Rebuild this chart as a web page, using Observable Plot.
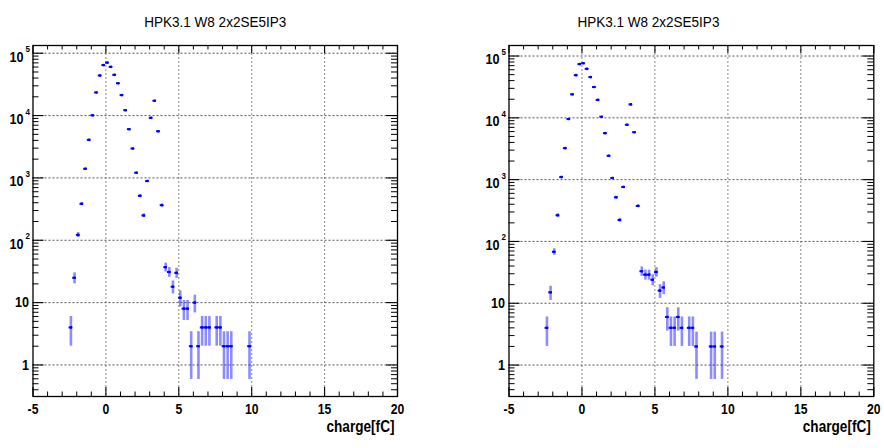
<!DOCTYPE html>
<html>
<head>
<meta charset="utf-8">
<script src="https://cdn.jsdelivr.net/npm/d3@7"></script>
<script src="https://cdn.jsdelivr.net/npm/@observablehq/plot@0.6"></script>
<style>
  html, body { margin: 0; padding: 0; background: #fff; }
  body { width: 884px; height: 448px; overflow: hidden; position: relative; }
  .pad { position: absolute; top: 0; width: 442px; height: 448px; }
</style>
</head>
<body>
<div id="padLeft" class="pad" style="left:0"></div>
<div id="padRight" class="pad" style="left:442px"></div>
<script>
// Histogram title shared by both pads
const histTitle = "HPK3.1 W8 2x2SE5IP3";
const xTitle = "charge[fC]";

// Left pad: bin centres (fC) and entries per bin
const leftCharge = [-2.4, -2.15, -1.9, -1.65, -1.4, -1.15, -0.9, -0.65, -0.4, -0.15,
  0.1, 0.35, 0.6, 0.85, 1.1, 1.35, 1.6, 1.85, 2.1, 2.35, 2.6, 2.85, 3.1, 3.35, 3.6, 3.85,
  4.1, 4.35, 4.6, 4.85, 5.1, 5.35, 5.6, 5.85, 6.1, 6.35, 6.6, 6.85, 7.1,
  7.6, 7.85, 8.1, 8.35, 8.6, 9.85];
const leftCounts = [4, 25, 122, 384, 1400, 4080, 10100, 23500, 44000, 64500,
  70600, 60400, 45000, 33000, 21300, 12200, 6050, 2960, 1210, 516, 250, 890, 9200, 17300, 5600, 365,
  37, 31, 18, 30, 12, 8, 8, 2, 10, 2, 4, 4, 4,
  4, 4, 2, 2, 2, 2];

// Right pad: bin centres (fC) and entries per bin
const rightCharge = [-2.4, -2.15, -1.9, -1.65, -1.4, -1.15, -0.9, -0.65, -0.4, -0.15,
  0.1, 0.35, 0.6, 0.85, 1.1, 1.35, 1.6, 1.85, 2.1, 2.35, 2.6, 2.85, 3.1, 3.35, 3.6, 3.85,
  4.1, 4.35, 4.6, 4.85, 5.1, 5.35, 5.6, 5.85, 6.1, 6.35, 6.6, 6.85,
  7.35, 7.6, 7.85, 8.85, 9.1, 9.6];
const rightCounts = [4, 15, 68, 265, 1100, 3230, 9550, 24000, 49000, 74000,
  76500, 62000, 45600, 31500, 19500, 10400, 5650, 2430, 1060, 517, 222, 760, 7730, 16500, 5860, 375,
  33, 29, 29, 24, 32, 16, 18, 6, 4, 4, 6, 4,
  4, 4, 2, 2, 2, 2];

const binWidth = 0.25;
const xMajor = [-5, 0, 5, 10, 15, 20];
const xGrid = [0, 5, 10, 15];
const xMinor = d3.range(-5, 21).filter(v => v % 5 !== 0);
const yDecades = [1, 10, 100, 1e3, 1e4, 1e5];
const yPlainLabels = {1: "1", 10: "10"};
const yExponents = ["2", "3", "4", "5"];

const labelFont = "'Liberation Sans', Arial, Helvetica, sans-serif";
// Helvetica-style labels are drawn horizontally condensed
const condense = 0.84;
const titleLength = 142;
const xTitleLength = 68;

function drawPad(el, charge, counts, cfg) {
  const W = 442, H = 448;
  const mt = 45, mb = 52;
  const ph = H - mt - mb;
  const pw = W - cfg.ml - cfg.mr;
  const yMinor = [];
  for (const d of [0.1, 1, 10, 100, 1e3, 1e4]) {
    for (let k = 2; k <= 9; k++) {
      const v = k * d;
      if (v >= cfg.yDomain[0] && v <= cfg.yDomain[1]) yMinor.push(v);
    }
  }
  const rows = charge.map((x, i) => {
    const n = counts[i], e = Math.sqrt(n);
    return {x, n, lo: n - e, hi: n + e};
  });
  const expRows = yExponents.map((t, i) => ({v: yDecades[i + 2], t}));

  const chart = Plot.plot({
    width: W,
    height: H,
    marginLeft: cfg.ml,
    marginRight: cfg.mr,
    marginTop: mt,
    marginBottom: mb,
    style: {fontFamily: labelFont, background: "#fff", overflow: "visible"},
    x: {domain: [-5, 20], axis: null},
    y: {type: "log", domain: cfg.yDomain, axis: null},
    marks: [
      // dotted grid
      Plot.ruleX(xGrid, {stroke: "#8a8a8a", strokeWidth: 1, strokeDasharray: "2,2"}),
      Plot.ruleY(yDecades, {stroke: "#555", strokeWidth: 1, strokeDasharray: "2,2"}),
      // statistical error bars
      Plot.ruleX(rows, {x: "x", y1: "lo", y2: "hi", stroke: "#0000ff", strokeOpacity: 0.45, strokeWidth: 2.6}),
      // bin-width bars and markers
      Plot.ruleY(rows, {y: "n", x1: d => d.x - binWidth / 2, x2: d => d.x + binWidth / 2, stroke: "#0000ff", strokeWidth: 2}),
      Plot.dot(rows, {x: "x", y: "n", r: 1.3, fill: "#0000ff", stroke: null}),
      // frame
      Plot.frame({stroke: "#000", strokeWidth: 1.3}),
      // inward ticks: bottom and top
      Plot.ruleX(xMajor, {insetTop: ph - 9, stroke: "#000", strokeWidth: 1.1}),
      Plot.ruleX(xMinor, {insetTop: ph - 4.5, stroke: "#000", strokeWidth: 1}),
      Plot.ruleX(xMajor, {insetBottom: ph - 8, stroke: "#000", strokeWidth: 1.1}),
      Plot.ruleX(xMinor, {insetBottom: ph - 4.5, stroke: "#000", strokeWidth: 1}),
      // inward ticks: left and right
      Plot.ruleY(yDecades, {insetRight: pw - 11, stroke: "#000", strokeWidth: 1.1}),
      Plot.ruleY(yMinor, {insetRight: pw - 6, stroke: "#000", strokeWidth: 1}),
      Plot.ruleY(yDecades, {insetLeft: pw - 11, stroke: "#000", strokeWidth: 1.1}),
      Plot.ruleY(yMinor, {insetLeft: pw - 6, stroke: "#000", strokeWidth: 1}),
      // x tick labels
      Plot.axisX({
        ticks: xMajor, tickSize: 0, tickPadding: 7.5, label: null,
        tickFormat: d => d < 0 ? "-" + Math.abs(d) : String(d),
        fontSize: 14.5, fontWeight: "bold", fill: "#000", fontFamily: labelFont
      }),
      // y tick labels: 1 and 10
      Plot.axisY({
        ticks: [1, 10], tickSize: 0, tickPadding: 4, label: null,
        tickFormat: d => yPlainLabels[d],
        fontSize: 15, fontWeight: "bold", fill: "#000", fontFamily: labelFont
      }),
      // y tick labels: 10^n
      Plot.axisY({
        ticks: yDecades.slice(2), tickSize: 0, tickPadding: 9.6, dy: 3.5, label: null,
        tickFormat: () => "10",
        fontSize: 15, fontWeight: "bold", fill: "#000", fontFamily: labelFont
      }),
      Plot.text(expRows, {
        y: "v", text: "t", frameAnchor: "left", dx: -7.6, dy: -4,
        textAnchor: "start", fontSize: 9.5, fontWeight: "bold", fill: "#000", fontFamily: labelFont
      }),
      // pad title
      Plot.text([histTitle], {
        frameAnchor: "top", dx: cfg.titleDx, dy: -29, text: d => d,
        fontSize: 14.5, fill: "#000", fontFamily: labelFont, className: "pad-title"
      }),
      // x axis title
      Plot.text([xTitle], {
        frameAnchor: "bottom-right", dx: -3, dy: 35.5, textAnchor: "end", text: d => d,
        fontSize: 16.5, fontWeight: "bold", fill: "#000", fontFamily: labelFont, className: "x-title"
      })
    ]
  });
  el.appendChild(chart);
  // condense every label horizontally, keeping its anchor
  d3.select(chart).selectAll("text").each(function () {
    const len = this.getComputedTextLength();
    if (len > 0) {
      this.setAttribute("textLength", (len * condense).toFixed(2));
      this.setAttribute("lengthAdjust", "spacingAndGlyphs");
    }
  });
  d3.select(chart).selectAll(".pad-title text").attr("textLength", titleLength);
  d3.select(chart).selectAll(".x-title text").attr("textLength", xTitleLength);
}

drawPad(document.getElementById("padLeft"), leftCharge, leftCounts,
  {ml: 32.5, mr: 45, yDomain: [0.312, 1.33e5], titleDx: 0});
drawPad(document.getElementById("padRight"), rightCharge, rightCounts,
  {ml: 66.5, mr: 10.7, yDomain: [0.31, 1.48e5], titleDx: -43});
</script>
</body>
</html>
